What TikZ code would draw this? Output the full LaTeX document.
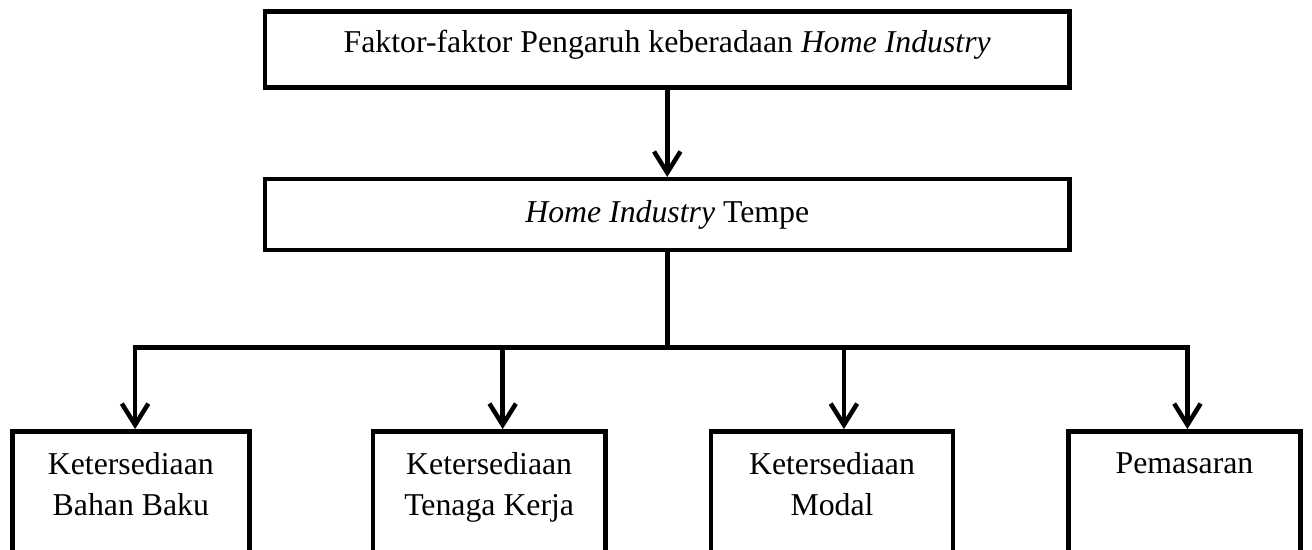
\documentclass[tikz,border=0pt]{standalone}
\usepackage{fontspec}
\setmainfont{Liberation Serif}
\usetikzlibrary{positioning,arrows.meta}

\begin{document}
\begin{tikzpicture}[
        node distance=33pt and 44.9pt,
        >={Straight Barb[length=8pt,width=10pt]},
        line width=1.7pt,
        font=\fontsize{12}{15.5}\selectfont,
        kotak/.style={draw, align=center, inner xsep=6pt},
        bawah/.style={kotak, inner ysep=8pt, text depth=40pt},
    ]
    \useasboundingbox (0,0) rectangle (495.4pt,-207.3pt);
        \node[kotak, anchor=north west, minimum width=303.6pt, minimum height=28.7pt, text depth=6pt] (pengaruh) at (99.3pt,-3.4pt) {Faktor-faktor Pengaruh keberadaan \textit{Home Industry}};
        \node[kotak, below = of pengaruh, minimum width=303.6pt, minimum height=26.8pt] (tempe) {\textit{Home Industry} Tempe};
        \coordinate[below = 35.9pt of tempe] (cabang);

        \node[bawah, anchor=north west, minimum width=89.5pt] (bahan) at (3.8pt,-162pt) {Ketersediaan\\Bahan Baku};
        \node[bawah, right = of bahan.north east, anchor=north west, minimum width=87.9pt] (tenaga) {Ketersediaan\\Tenaga Kerja};
        \node[bawah, right = 38.1pt of tenaga.north east, anchor=north west, minimum width=91.4pt] (modal) {Ketersediaan\\Modal};
        \node[bawah, right = 41.9pt of modal.north east, anchor=north west, minimum width=87.6pt] (pasar) {Pemasaran};

    \draw[->] (pengaruh) -- (tempe);
    \draw (tempe) -- (cabang);
    \draw[->] (cabang) -| ([xshift=1.6pt]bahan.north);
    \draw[->] (cabang) -| ([xshift=5.1pt]tenaga.north);
    \draw[->] (cabang) -| ([xshift=4.5pt]modal.north);
    \draw[->] (cabang) -| ([xshift=1.1pt]pasar.north);
\end{tikzpicture}
\end{document}
